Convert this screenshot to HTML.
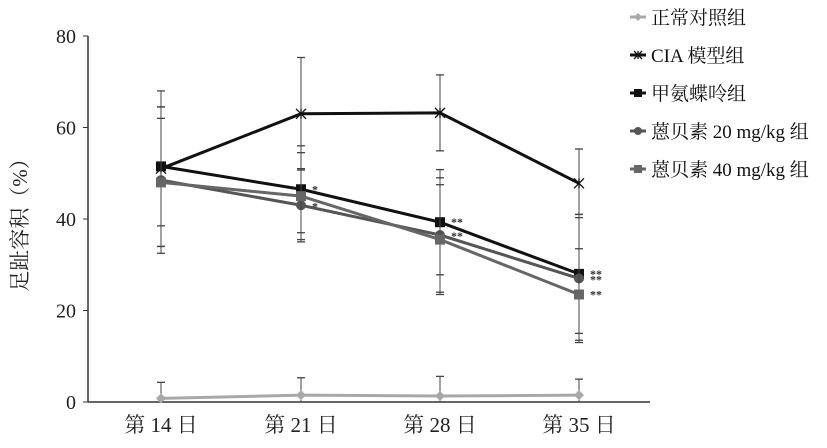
<!DOCTYPE html>
<html><head><meta charset="utf-8"><style>
body{margin:0;background:#fff}
svg{display:block;font-family:"Liberation Serif","Noto Serif CJK SC",serif}
</style></head><body>
<svg id="chart" width="827" height="448" viewBox="0 0 827 448"></svg>
<script>
const categories=["第 14 日","第 21 日","第 28 日","第 35 日"];
const yTicks=[0,20,40,60,80];
const seriesNames=["正常对照组","CIA 模型组","甲氨蝶呤组","蒽贝素 20 mg/kg 组","蒽贝素 40 mg/kg 组"];
const normalVals=[0.8,1.5,1.3,1.5];
const normalErr=[3.5,3.8,4.3,3.5];
const ciaVals=[51,63,63.2,47.8];
const ciaErr=[17,12.3,8.3,7.5];
const mtxVals=[51.5,46.5,39.3,28];
const mtxErr=[13,9.5,11.5,13];
const d20Vals=[48.5,43,36.5,27];
const d20Err=[16,8,12.5,14];
const d40Vals=[48,45,35.5,23.5];
const d40Err=[14,9.5,12,10];
const sigLabels=[["","*","**","**"],["","*","**","**"],["","","",""],["","","","**"]];
const NS="http://www.w3.org/2000/svg";
const svg=document.getElementById('chart');
const x0=88,y0=402,yTop=36,xPos=[161,301,440,579];
const X=i=>xPos[i];
const Y=v=>y0-(v/80)*(y0-yTop);
function el(t,a,p){const e=document.createElementNS(NS,t);for(const k in a)e.setAttribute(k,a[k]);(p||svg).appendChild(e);return e;}
const ax=el('line',{x1:x0,y1:yTop,x2:x0,y2:y0,stroke:'#333','stroke-width':1.5});


const bx=el('line',{x1:x0,y1:y0,x2:650,y2:y0,stroke:'#333','stroke-width':1.5});


yTicks.forEach(v=>{
  el('line',{x1:x0-5,y1:Y(v),x2:x0,y2:Y(v),stroke:'#333'});
  const t=el('text',{x:x0-12,y:Y(v)+7,'text-anchor':'end','font-size':20,fill:'#222'});t.textContent=v;
  
  
});
categories.forEach((c,i)=>{
  const t=el('text',{x:X(i),y:432,'text-anchor':'middle','font-size':21,fill:'#222'});t.textContent=c;
  
  
});
const yt=el('text',{x:0,y:0,transform:'translate(27,220) rotate(-90)','text-anchor':'middle','font-size':21,fill:'#222'});
yt.textContent='足趾容积（%）';


const series=[
 {vals:normalVals,err:normalErr,color:'#a8a8a8',m:'diamond'},
 {vals:ciaVals,err:ciaErr,color:'#111',m:'star'},
 {vals:mtxVals,err:mtxErr,color:'#111',m:'square'},
 {vals:d20Vals,err:d20Err,color:'#555',m:'circle'},
 {vals:d40Vals,err:d40Err,color:'#666',m:'square'}];
function marker(m,x,y,c,g,sc){
  sc=sc||1;const r=5*sc;
  if(m==='diamond')el('path',{d:`M${x} ${y-r}L${x+r} ${y}L${x} ${y+r}L${x-r} ${y}Z`,fill:c},g);
  else if(m==='square')el('rect',{x:x-r,y:y-r,width:2*r,height:2*r,fill:c},g);
  else if(m==='circle')el('circle',{cx:x,cy:y,r:r,fill:c},g);
  else{el('path',{d:`M${x-r} ${y-r}L${x+r} ${y+r}M${x+r} ${y-r}L${x-r} ${y+r}M${x} ${y-r}L${x} ${y+r}`,stroke:c,'stroke-width':1.3},g);}
}
series.forEach((s,si)=>{
  const g=el('g',{});
  
  
  s.vals.forEach((v,i)=>{
    const x=X(i);
    const lo=Math.max(0,v-s.err[i]),hi=v+s.err[i];
    el('line',{x1:x,y1:Y(lo),x2:x,y2:Y(hi),stroke:'#444','stroke-width':1},g);
    [lo,hi].forEach(e=>{if(e>0)el('line',{x1:x-4,y1:Y(e),x2:x+4,y2:Y(e),stroke:'#444','stroke-width':1.3},g);});
  });
  el('polyline',{points:s.vals.map((v,i)=>X(i)+','+Y(v)).join(' '),fill:'none',stroke:s.color,'stroke-width':3},g);
  s.vals.forEach((v,i)=>marker(s.m,X(i),Y(v),s.color,g));
});
[mtxVals,d20Vals,d40Vals].forEach((vals,k)=>{
  const labs=[sigLabels[0],sigLabels[1],sigLabels[3]][k];
  vals.forEach((v,i)=>{if(!labs[i])return;
    const t=el('text',{x:X(i)+11,y:Y(v)+4+(k==1?1:0),'font-size':12,'font-weight':'bold',fill:'#333'});t.textContent=labs[i];
    
    });
});
seriesNames.forEach((n,i)=>{
  const y=17+i*38,s=series[i];
  const g=el('g',{});
  
  
  el('line',{x1:630,y1:y,x2:646,y2:y,stroke:s.color,'stroke-width':3},g);
  marker(s.m,638,y,s.color,g,0.8);
  const t=el('text',{x:651,y:y+7,'font-size':19,fill:'#111'},g);t.textContent=n;
});
</script>
</body></html>
